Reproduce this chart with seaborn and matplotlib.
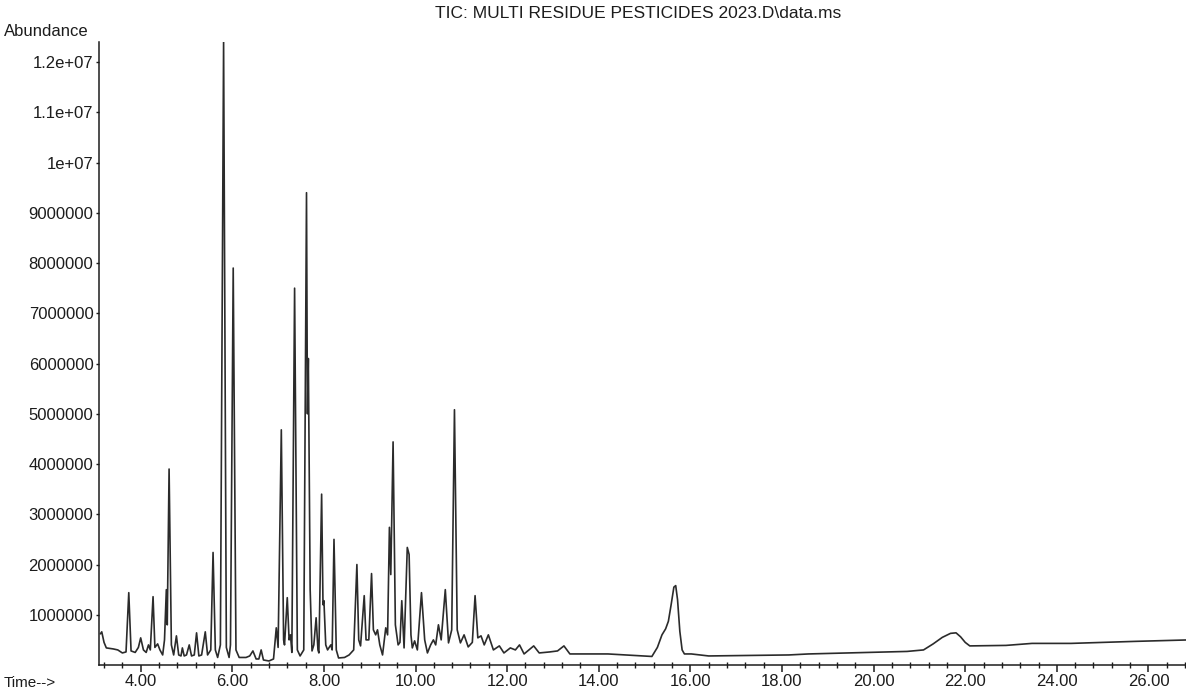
import matplotlib
matplotlib.use("Agg")
import matplotlib.pyplot as plt
from matplotlib.ticker import MultipleLocator, FixedLocator, FixedFormatter
import seaborn as sns
import pandas as pd

# ---- data (retention time in min, abundance in millions) ----
time_min = [
    3.12, 3.15, 3.2, 3.25, 3.4, 3.5, 3.6, 3.68, 3.74, 3.79, 3.88, 3.95, 4.0, 4.06, 4.12,
    4.17, 4.21, 4.27, 4.31, 4.37, 4.42, 4.48, 4.52, 4.56, 4.58, 4.62, 4.67, 4.72, 4.78,
    4.83, 4.88, 4.91, 4.95, 5.0, 5.06, 5.11, 5.17, 5.22, 5.27, 5.33, 5.41, 5.46, 5.53,
    5.58, 5.63, 5.68, 5.74, 5.81, 5.87, 5.93, 5.96, 6.02, 6.08, 6.15, 6.3, 6.38, 6.45,
    6.52, 6.58, 6.63, 6.68, 6.8, 6.9, 6.96, 7.0, 7.07, 7.12, 7.14, 7.2, 7.24, 7.27, 7.3,
    7.36, 7.42, 7.48, 7.56, 7.62, 7.64, 7.66, 7.7, 7.74, 7.78, 7.83, 7.87, 7.89, 7.95,
    7.98, 8.0, 8.04, 8.08, 8.15, 8.18, 8.22, 8.27, 8.32, 8.45, 8.55, 8.65, 8.72, 8.76,
    8.8, 8.88, 8.92, 8.98, 9.04, 9.08, 9.13, 9.17, 9.22, 9.28, 9.35, 9.39, 9.43, 9.46,
    9.51, 9.56, 9.62, 9.66, 9.7, 9.75, 9.82, 9.86, 9.9, 9.93, 9.98, 10.04, 10.13, 10.2,
    10.26, 10.33, 10.39, 10.44, 10.5, 10.56, 10.65, 10.72, 10.79, 10.85, 10.91, 10.98,
    11.06, 11.15, 11.24, 11.3, 11.36, 11.43, 11.5, 11.59, 11.7, 11.83, 11.93, 12.07,
    12.18, 12.27, 12.37, 12.58, 12.7, 12.93, 13.1, 13.24, 13.37, 14.2, 15.16, 15.28,
    15.38, 15.46, 15.52, 15.58, 15.64, 15.68, 15.72, 15.77, 15.82, 15.87, 16.02, 16.4,
    18.15, 18.58, 20.73, 21.09, 21.3, 21.5, 21.68, 21.8, 21.9, 22.0, 22.1, 22.89, 23.46,
    24.31, 25.7, 26.9,
]
abundance_millions = [
    0.62, 0.66, 0.45, 0.34, 0.32, 0.3, 0.24, 0.26, 1.44, 0.28, 0.25, 0.35, 0.54, 0.3, 0.25,
    0.4, 0.3, 1.36, 0.35, 0.42, 0.3, 0.2, 0.5, 1.5, 0.8, 3.9, 0.4, 0.2, 0.58,
    0.2, 0.18, 0.34, 0.18, 0.2, 0.4, 0.18, 0.2, 0.64, 0.18, 0.2, 0.66, 0.2, 0.3,
    2.24, 0.3, 0.15, 0.4, 12.4, 0.35, 0.15, 0.4, 7.9, 0.3, 0.15, 0.15, 0.18, 0.28,
    0.12, 0.12, 0.3, 0.1, 0.08, 0.12, 0.74, 0.35, 4.68, 0.5, 0.4, 1.34, 0.5, 0.6, 0.25,
    7.5, 0.3, 0.18, 0.3, 9.4, 5.0, 6.1, 1.5, 0.28, 0.4, 0.94, 0.3, 0.24, 3.4,
    1.2, 1.28, 0.4, 0.3, 0.4, 0.3, 2.5, 0.3, 0.14, 0.15, 0.2, 0.3, 2.0, 0.5,
    0.38, 1.38, 0.5, 0.5, 1.82, 0.7, 0.6, 0.7, 0.4, 0.2, 0.74, 0.6, 2.74, 1.8,
    4.44, 0.8, 0.4, 0.45, 1.28, 0.34, 2.34, 2.2, 0.6, 0.34, 0.48, 0.3, 1.44, 0.5,
    0.24, 0.4, 0.5, 0.4, 0.8, 0.5, 1.5, 0.44, 0.7, 5.08, 0.7, 0.44,
    0.6, 0.36, 0.45, 1.38, 0.54, 0.58, 0.4, 0.6, 0.3, 0.38, 0.24, 0.34,
    0.3, 0.4, 0.22, 0.38, 0.24, 0.26, 0.28, 0.38, 0.22, 0.22, 0.17, 0.35,
    0.6, 0.72, 0.87, 1.2, 1.55, 1.58, 1.3, 0.67, 0.3, 0.22, 0.22, 0.18,
    0.2, 0.22, 0.27, 0.3, 0.42, 0.55, 0.63, 0.64, 0.56, 0.45, 0.38, 0.39, 0.43,
    0.43, 0.47, 0.5,
]

x_major_ticks = [4, 6, 8, 10, 12, 14, 16, 18, 20, 22, 24, 26]
x_tick_labels = ["4.00", "6.00", "8.00", "10.00", "12.00", "14.00", "16.00",
                 "18.00", "20.00", "22.00", "24.00", "26.00"]
y_ticks = [1e6, 2e6, 3e6, 4e6, 5e6, 6e6, 7e6, 8e6, 9e6, 1e7, 1.1e7, 1.2e7]
y_tick_labels = ["1000000", "2000000", "3000000", "4000000", "5000000", "6000000",
                 "7000000", "8000000", "9000000", "1e+07", "1.1e+07", "1.2e+07"]
title_text = "TIC: MULTI RESIDUE PESTICIDES 2023.D\\data.ms"

# ---- plotting ----
sns.set_style("ticks")
plt.rcParams["font.family"] = ["Liberation Sans", "DejaVu Sans"]
ink = "#1c1c1c"

df = pd.DataFrame({"Time": time_min,
                   "Abundance": [v * 1e6 for v in abundance_millions]})

fig = plt.figure(figsize=(11.86, 6.92), dpi=100)
ax = fig.add_axes([99 / 1186, 27 / 692, 1 - 99 / 1186, (665 - 42) / 692])

sns.lineplot(data=df, x="Time", y="Abundance", ax=ax, color="#2b2b2b",
             linewidth=1.2, estimator=None, sort=False)

ax.set_xlim(3.09, 26.82)
ax.set_ylim(0, 12.4e6)

for side in ("top", "right"):
    ax.spines[side].set_visible(False)
for side in ("left", "bottom"):
    ax.spines[side].set_color(ink)
    ax.spines[side].set_linewidth(1.1)

ax.xaxis.set_major_locator(FixedLocator(x_major_ticks))
ax.xaxis.set_major_formatter(FixedFormatter(x_tick_labels))
ax.xaxis.set_minor_locator(MultipleLocator(0.4))
ax.yaxis.set_major_locator(FixedLocator(y_ticks))
ax.yaxis.set_major_formatter(FixedFormatter(y_tick_labels))

ax.tick_params(axis="x", which="major", direction="out", length=5, width=1.1,
               color=ink, labelsize=12, labelcolor=ink, pad=1.5)
ax.tick_params(axis="x", which="minor", direction="inout", length=5, width=1.0,
               color=ink)
ax.tick_params(axis="y", which="major", direction="out", length=2, width=1.0,
               color=ink, labelsize=12, labelcolor=ink, pad=2)

ax.set_xlabel("")
ax.set_ylabel("")
ax.grid(False)

fig.text(4 / 1186, 1 - 32 / 692, "Abundance", ha="left", va="center",
         fontsize=12, color=ink)
fig.text(4 / 1186, 1 - 683 / 692, "Time-->", ha="left", va="center",
         fontsize=11, color=ink)
fig.text(638 / 1186, 1 - 14 / 692, title_text, ha="center", va="center",
         fontsize=12.5, color=ink)

fig.savefig("out.png", dpi=100, facecolor="white")
